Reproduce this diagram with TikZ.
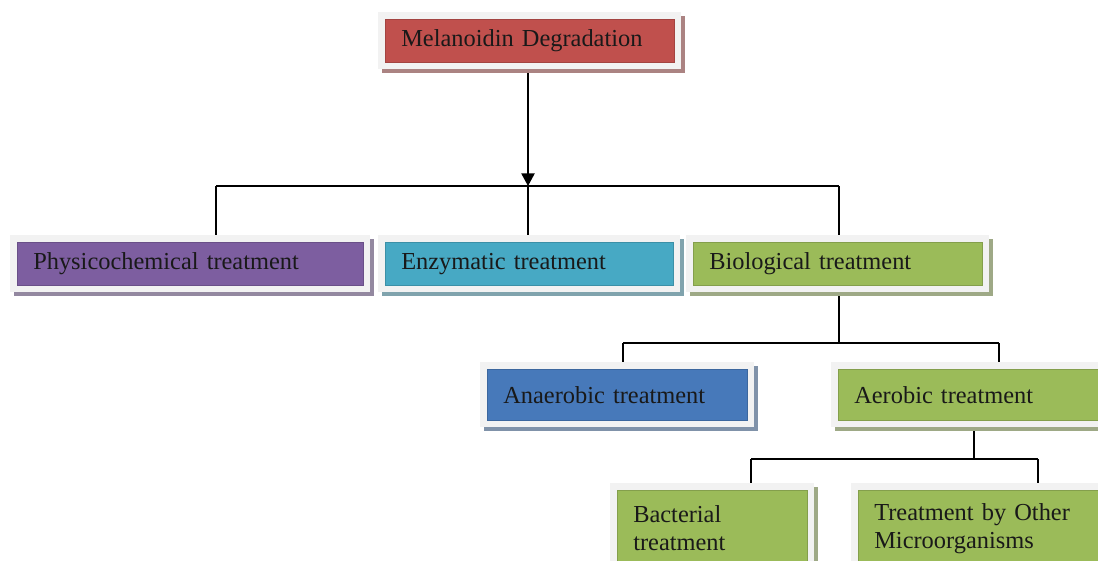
\documentclass[tikz,border=0pt]{standalone}
\usepackage{fontspec}
\setmainfont{Liberation Serif}
\usepackage{tikz}
\usetikzlibrary{arrows.meta, shadows, backgrounds}

\definecolor{redbox}{HTML}{C0504D}
\definecolor{purplebox}{HTML}{7D5EA0}
\definecolor{tealbox}{HTML}{47A9C4}
\definecolor{greenbox}{HTML}{9BBB59}
\definecolor{bluebox}{HTML}{4779BA}
\definecolor{framegray}{HTML}{F2F2F2}

\begin{document}
\begin{tikzpicture} [x=0.75pt, y=-0.75pt,
    >={Triangle[length=9.5pt,width=10pt]},
    link/.style = {draw=black, line width=1pt},
    ]
        \tikzset{BoxStyle/.style = {shape=rectangle, anchor=north west, fill=#1, draw=#1!85!black, line width=0.4pt,
                 general shadow={fill=#1!60!black!60!white, draw=#1!60!black!60!white, line width=10.5pt,
                                 shadow xshift=3pt, shadow yshift=-3pt},
                 preaction={draw=framegray, line width=10.5pt},
                 inner xsep=12pt, inner ysep=0pt, align=left, text=black!90,
                 font=\fontsize{18.3}{21}\selectfont}}
    \useasboundingbox (0,0) rectangle (1098,560);
    \clip (0,0) rectangle (1098,560);

    \node[BoxStyle=redbox, text width=192.75pt, minimum height=32.25pt] at (385,19) (melanoidin) {Melanoidin Degradation};
    \node[BoxStyle=purplebox, text width=235.5pt, minimum height=32.25pt] at (17,242) (physico) {Physicochemical treatment};
    \node[BoxStyle=tealbox, text width=192pt, minimum height=32.25pt] at (385,242) (enzymatic) {Enzymatic treatment};
    \node[BoxStyle=greenbox, text width=192.75pt, minimum height=32.25pt] at (693,242) (biological) {Biological treatment};
    \node[BoxStyle=bluebox, text width=171pt, minimum height=38.25pt] at (487,369) (anaerobic) {Anaerobic treatment};
    \node[BoxStyle=greenbox, text width=201pt, minimum height=38.25pt] at (838,369) (aerobic) {Aerobic treatment};
    \node[BoxStyle=greenbox, text width=118.5pt, minimum height=57pt] at (617,490) (bacterial) {Bacterial\\treatment};
    \node[BoxStyle=greenbox, text width=201pt, minimum height=57pt] at (858,490) (others) {Treatment by Other\\Microorganisms};

    % junctions of the tree
    \coordinate (top split) at (528,186);
    \coordinate (top left) at (216,186);
    \coordinate (top right) at (839,186);
    \coordinate (bio split) at (839,343);
    \coordinate (bio left) at (623,343);
    \coordinate (bio right) at (999,343);
    \coordinate (aero split) at (974,459);
    \coordinate (aero left) at (751,459);
    \coordinate (aero right) at (1038,459);

\begin{scope}[on background layer]
\path[link]
    (top left) -- (top right)
    (top left) -- (top left |- physico.north)
    (top split) -- (top split |- enzymatic.north)
    (top right) -- (top right |- biological.north)
    (bio split |- biological.south) -- (bio split)
    (bio left) -- (bio right)
    (bio left) -- (bio left |- anaerobic.north)
    (bio right) -- (bio right |- aerobic.north)
    (aero split |- aerobic.south) -- (aero split)
    (aero left) -- (aero right)
    (aero left) -- (aero left |- bacterial.north)
    (aero right) -- (aero right |- others.north);
\draw[link,->] (top split |- melanoidin.south) -- (top split);
\end{scope}
\end{tikzpicture}
\end{document}
